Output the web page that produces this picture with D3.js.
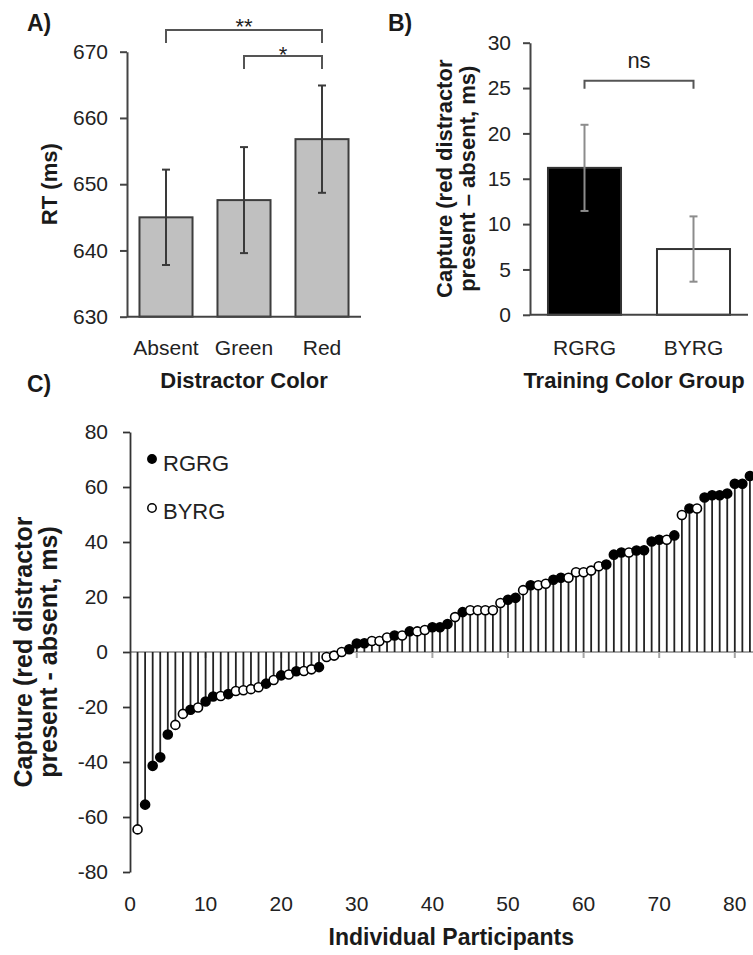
<!DOCTYPE html>
<html>
<head>
<meta charset="utf-8">
<script src="https://cdn.jsdelivr.net/npm/d3@7"></script>
<style>
  body { margin: 0; background: #fff; }
  svg { display: block; }
</style>
</head>
<body>
<div id="chart"></div>
<script>
const WIDTH = 753;
const HEIGHT = 955;
const FONT = '"Liberation Sans", Arial, sans-serif';

// Panel A data: mean RT by distractor color
const distractorColors = ['Absent', 'Green', 'Red'];
const rtMeans = [645, 647.6, 656.8];
const rtErrors = [7.2, 8.0, 8.1];
const rtTicks = [630, 640, 650, 660, 670];
const rtComparisons = [
    { from: 'Green', to: 'Red', label: '*' },
    { from: 'Absent', to: 'Red', label: '**' }
];

// Panel B data: capture by training color group
const trainingGroups = ['RGRG', 'BYRG'];
const captureMeans = [16.2, 7.25];
const captureErrors = [4.75, 3.6];
const captureTicks = [0, 5, 10, 15, 20, 25, 30];
const groupComparison = { from: 'RGRG', to: 'BYRG', label: 'ns', level: 25.8 };

// Panel C data: capture for each participant (sorted), and group code
const participantCapture = [
    -64.5, -55.5, -41.4, -38.3, -30, -26.5, -22.5, -21, -20.2, -18,
    -16.2, -16, -15.3, -14.2, -13.9, -13.5, -12.8, -11.5, -10.2, -8.5,
    -8.2, -7, -6.9, -6.3, -5.5, -1.8, -1.3, 0, 1, 3.1,
    3.2, 4, 4, 5.3, 6, 6, 7.5, 7.5, 8, 9,
    9, 10.2, 12.7, 14.5, 15.2, 15.2, 15.2, 15.2, 17.8, 19,
    19.7, 22.5, 24.3, 24.3, 24.8, 26.3, 27, 27, 29, 29,
    29.6, 31.2, 31.8, 35.4, 36.2, 36.2, 36.9, 37, 40.2, 40.8,
    40.8, 42.4, 49.8, 52.2, 52.2, 56.2, 57, 57, 57.6, 61.2,
    61.2, 64
];
const participantGroup = [
    'B', 'R', 'R', 'R', 'R', 'B', 'B', 'R', 'B', 'R',
    'R', 'B', 'R', 'B', 'B', 'B', 'B', 'R', 'B', 'R',
    'B', 'R', 'B', 'B', 'R', 'B', 'B', 'B', 'R', 'R',
    'R', 'B', 'B', 'B', 'R', 'B', 'R', 'B', 'B', 'R',
    'R', 'R', 'B', 'R', 'B', 'B', 'B', 'B', 'B', 'R',
    'R', 'B', 'R', 'B', 'B', 'R', 'R', 'B', 'B', 'B',
    'B', 'B', 'R', 'R', 'R', 'B', 'R', 'R', 'R', 'R',
    'B', 'R', 'B', 'R', 'B', 'R', 'R', 'R', 'R', 'R',
    'R', 'R'
];
const groupNames = { R: 'RGRG', B: 'BYRG' };
const participantTicks = [0, 10, 20, 30, 40, 50, 60, 70, 80];
const captureRangeTicks = [-80, -60, -40, -20, 0, 20, 40, 60, 80];

const svg = d3.select('#chart').append('svg')
    .attr('width', WIDTH)
    .attr('height', HEIGHT)
    .style('font-family', FONT);

/**
 * Style an axis group: line colour, width and tick text
 */
const styleAxis = (g, color, width, fontSize) => {
    g.attr('font-family', FONT).attr('font-size', fontSize);
    g.select('.domain').attr('stroke', color).attr('stroke-width', width);
    g.selectAll('.tick line').attr('stroke', color).attr('stroke-width', width);
    g.selectAll('.tick text').attr('fill', '#222');
};

/**
 * Draw a bar chart with error bars
 */
const drawBars = (g, x, y, cats, means, errs, opts) => {
    const rows = cats.map((c, i) => ({ cat: c, mean: means[i], err: errs[i], i }));
    const base = y.domain()[0];

    g.selectAll('rect.bar')
        .data(rows)
        .join('rect')
        .attr('class', 'bar')
        .attr('x', d => x(d.cat))
        .attr('y', d => y(d.mean))
        .attr('width', x.bandwidth())
        .attr('height', d => y(base) - y(d.mean))
        .attr('fill', d => opts.fill(d.i))
        .attr('stroke', opts.stroke)
        .attr('stroke-width', 2);

    const cx = d => x(d.cat) + x.bandwidth() / 2;
    const eb = g.selectAll('g.err')
        .data(rows)
        .join('g')
        .attr('class', 'err')
        .attr('stroke', opts.errColor)
        .attr('stroke-width', 2);
    eb.append('line')
        .attr('x1', cx).attr('x2', cx)
        .attr('y1', d => y(d.mean + d.err))
        .attr('y2', d => y(d.mean - d.err));
    [1, -1].forEach(s => {
        eb.append('line')
            .attr('x1', d => cx(d) - 4).attr('x2', d => cx(d) + 4)
            .attr('y1', d => y(d.mean + s * d.err))
            .attr('y2', d => y(d.mean + s * d.err));
    });
};

/**
 * Draw a significance bracket between two band centres
 */
const drawBracket = (g, x, from, to, yTop, drop, label, labelY, fontSize) => {
    const x1 = x(from) + x.bandwidth() / 2;
    const x2 = x(to) + x.bandwidth() / 2;
    g.append('path')
        .attr('d', `M${x1},${yTop + drop}V${yTop}H${x2}V${yTop + drop}`)
        .attr('fill', 'none')
        .attr('stroke', '#555')
        .attr('stroke-width', 2);
    g.append('text')
        .attr('x', (x1 + x2) / 2)
        .attr('y', labelY)
        .attr('text-anchor', 'middle')
        .attr('font-size', fontSize)
        .attr('fill', '#222')
        .text(label);
};

/**
 * Panel A: RT by distractor color
 */
const drawPanelA = () => {
    const g = svg.append('g');
    const x = d3.scaleBand()
        .domain(distractorColors)
        .range([127, 361])
        .paddingInner(0.32)
        .paddingOuter(0.16);
    const y = d3.scaleLinear().domain([630, 670]).range([316.7, 51.7]);

    drawBars(g, x, y, distractorColors, rtMeans, rtErrors, {
        fill: () => '#c0c0c0',
        stroke: '#3d3d3d',
        errColor: '#3a3a3a'
    });

    // axes
    g.append('g')
        .attr('transform', 'translate(127,0)')
        .call(d3.axisLeft(y).tickValues(rtTicks).tickSize(7).tickPadding(12).tickSizeOuter(0))
        .call(a => styleAxis(a, '#444', 2, 21));
    g.append('line')
        .attr('x1', 127).attr('x2', 361)
        .attr('y1', y(630)).attr('y2', y(630))
        .attr('stroke', '#444').attr('stroke-width', 2);

    // brackets
    const levels = [{ top: 56, labelY: 62 }, { top: 30, labelY: 34 }];
    rtComparisons.forEach((c, i) => {
        drawBracket(g, x, c.from, c.to, levels[i].top, 13, c.label, levels[i].labelY, 22);
    });

    // category labels
    g.selectAll('text.cat')
        .data(distractorColors)
        .join('text')
        .attr('class', 'cat')
        .attr('x', d => x(d) + x.bandwidth() / 2)
        .attr('y', 355)
        .attr('text-anchor', 'middle')
        .attr('font-size', 21)
        .attr('fill', '#222')
        .text(d => d);

    g.append('text')
        .attr('x', 244).attr('y', 388)
        .attr('text-anchor', 'middle')
        .attr('font-size', 22).attr('font-weight', 'bold').attr('fill', '#1a1a1a')
        .text('Distractor Color');

    g.append('text')
        .attr('transform', `translate(57,${(y(630) + y(670)) / 2}) rotate(-90)`)
        .attr('text-anchor', 'middle')
        .attr('font-size', 22).attr('font-weight', 'bold').attr('fill', '#1a1a1a')
        .text('RT (ms)');

    g.append('text')
        .attr('x', 27).attr('y', 31)
        .attr('font-size', 23).attr('font-weight', 'bold').attr('fill', '#1a1a1a')
        .text('A)');
};

/**
 * Panel B: capture by training group
 */
const drawPanelB = () => {
    const g = svg.append('g');
    const x = d3.scaleBand()
        .domain(trainingGroups)
        .range([530, 748])
        .paddingInner(0.33)
        .paddingOuter(0.165);
    const y = d3.scaleLinear().domain([0, 30]).range([314.8, 42.7]);

    drawBars(g, x, y, trainingGroups, captureMeans, captureErrors, {
        fill: i => (i === 0 ? '#000' : '#fff'),
        stroke: '#333',
        errColor: '#8c8c8c'
    });

    g.append('g')
        .attr('transform', 'translate(530,0)')
        .call(d3.axisLeft(y).tickValues(captureTicks).tickSize(7).tickPadding(12).tickSizeOuter(0))
        .call(a => styleAxis(a, '#444', 2, 21));
    g.append('line')
        .attr('x1', 530).attr('x2', 748)
        .attr('y1', y(0)).attr('y2', y(0))
        .attr('stroke', '#444').attr('stroke-width', 2);

    const c = groupComparison;
    drawBracket(g, x, c.from, c.to, y(c.level), 8, c.label, 68, 22);

    g.selectAll('text.cat')
        .data(trainingGroups)
        .join('text')
        .attr('class', 'cat')
        .attr('x', d => x(d) + x.bandwidth() / 2)
        .attr('y', 355)
        .attr('text-anchor', 'middle')
        .attr('font-size', 21)
        .attr('fill', '#222')
        .text(d => d);

    g.append('text')
        .attr('x', 634).attr('y', 388)
        .attr('text-anchor', 'middle')
        .attr('font-size', 22).attr('font-weight', 'bold').attr('fill', '#1a1a1a')
        .text('Training Color Group');

    const title = g.append('g')
        .attr('transform', `translate(452,${(y(0) + y(30)) / 2}) rotate(-90)`)
        .attr('text-anchor', 'middle')
        .attr('font-size', 22).attr('font-weight', 'bold').attr('fill', '#1a1a1a');
    title.append('text').attr('y', 0).text('Capture (red distractor');
    title.append('text').attr('y', 23).text('present \u2013 absent, ms)');

    g.append('text')
        .attr('x', 388).attr('y', 31)
        .attr('font-size', 23).attr('font-weight', 'bold').attr('fill', '#1a1a1a')
        .text('B)');
};

/**
 * Panel C: individual participants lollipop chart
 */
const drawPanelC = () => {
    const g = svg.append('g');
    const x = d3.scaleLinear().domain([0, 85]).range([130, 772.6]);
    const y = d3.scaleLinear().domain([-80, 80]).range([872, 432]);
    const points = participantCapture.map((v, i) => ({
        n: i + 1, value: v, group: groupNames[participantGroup[i]]
    }));

    // zero line with small ticks
    g.append('line')
        .attr('x1', x(0)).attr('x2', WIDTH)
        .attr('y1', y(0)).attr('y2', y(0))
        .attr('stroke', '#a6a6a6').attr('stroke-width', 2);
    g.selectAll('line.xtick')
        .data(participantTicks.filter(d => d > 0))
        .join('line')
        .attr('class', 'xtick')
        .attr('x1', d => x(d)).attr('x2', d => x(d))
        .attr('y1', y(0)).attr('y2', y(0) + 6)
        .attr('stroke', '#a6a6a6').attr('stroke-width', 2);

    // stems
    g.selectAll('line.stem')
        .data(points)
        .join('line')
        .attr('class', 'stem')
        .attr('x1', d => x(d.n)).attr('x2', d => x(d.n))
        .attr('y1', y(0)).attr('y2', d => y(d.value))
        .attr('stroke', '#222').attr('stroke-width', 1.8);

    // markers
    g.selectAll('circle.pt')
        .data(points)
        .join('circle')
        .attr('class', 'pt')
        .attr('cx', d => x(d.n))
        .attr('cy', d => y(d.value))
        .attr('r', 4.5)
        .attr('fill', d => (d.group === 'RGRG' ? '#000' : '#fff'))
        .attr('stroke', '#000')
        .attr('stroke-width', 1.6);

    // y axis
    g.append('g')
        .attr('transform', `translate(${x(0)},0)`)
        .call(d3.axisLeft(y).tickValues(captureRangeTicks).tickSize(7).tickPadding(15)
            .tickSizeOuter(0).tickFormat(d => String(d)))
        .call(a => styleAxis(a, '#333', 1.8, 21));

    // x tick labels sit at the bottom
    g.selectAll('text.xlab')
        .data(participantTicks)
        .join('text')
        .attr('class', 'xlab')
        .attr('x', d => x(d))
        .attr('y', 911)
        .attr('text-anchor', 'middle')
        .attr('font-size', 21)
        .attr('fill', '#222')
        .text(d => d);

    g.append('text')
        .attr('x', (x(0) + x(85)) / 2).attr('y', 945)
        .attr('text-anchor', 'middle')
        .attr('font-size', 23).attr('font-weight', 'bold').attr('fill', '#1a1a1a')
        .text('Individual Participants');

    const title = g.append('g')
        .attr('transform', `translate(32,${y(0)}) rotate(-90)`)
        .attr('text-anchor', 'middle')
        .attr('font-size', 25).attr('font-weight', 'bold').attr('fill', '#1a1a1a');
    title.append('text').attr('y', 0).text('Capture (red distractor');
    title.append('text').attr('y', 25).text('present - absent, ms)');

    // legend
    const legend = g.append('g');
    const legendRows = [
        { group: 'RGRG', cy: 459, ty: 471 },
        { group: 'BYRG', cy: 508, ty: 519 }
    ];
    legend.selectAll('circle')
        .data(legendRows)
        .join('circle')
        .attr('cx', 152).attr('cy', d => d.cy)
        .attr('r', 4.2)
        .attr('fill', d => (d.group === 'RGRG' ? '#000' : '#fff'))
        .attr('stroke', '#000').attr('stroke-width', 1.5);
    legend.selectAll('text')
        .data(legendRows)
        .join('text')
        .attr('x', 163).attr('y', d => d.ty)
        .attr('font-size', 22)
        .attr('fill', '#222')
        .text(d => d.group);

    g.append('text')
        .attr('x', 27).attr('y', 392)
        .attr('font-size', 23).attr('font-weight', 'bold').attr('fill', '#1a1a1a')
        .text('C)');
};

drawPanelA();
drawPanelB();
drawPanelC();
</script>
</body>
</html>
